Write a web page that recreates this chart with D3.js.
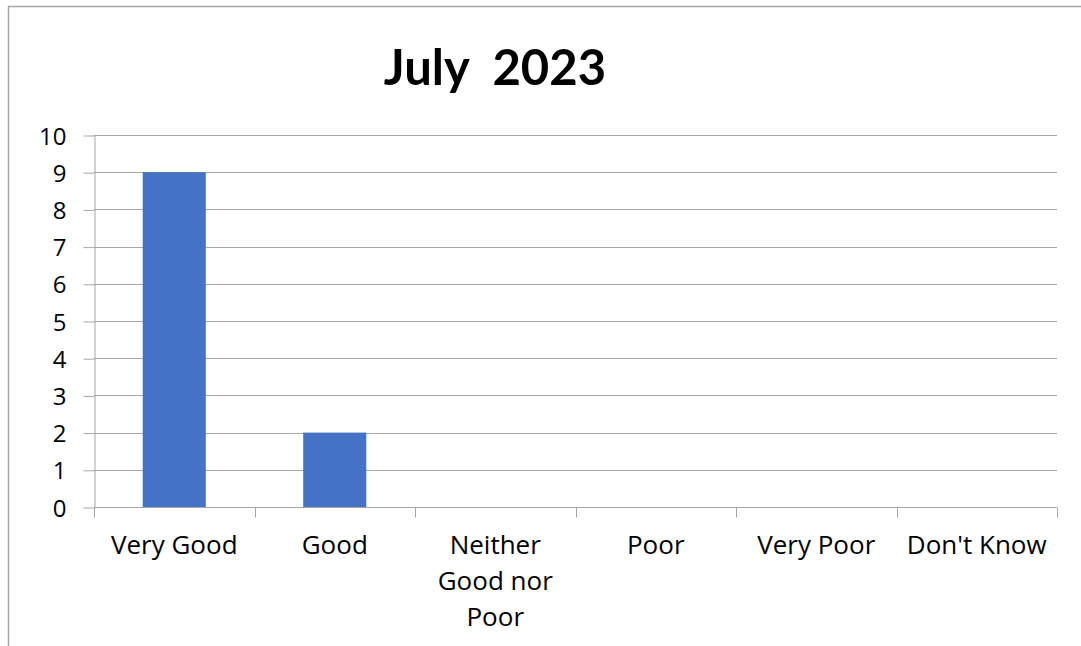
<!DOCTYPE html>
<html>
<head>
<meta charset="utf-8">
<script src="https://cdn.jsdelivr.net/npm/d3@7"></script>
<style>
  body { margin: 0; background: #fff; }
  svg { display: block; font-family: "Open Sans", Lato, sans-serif; }
</style>
</head>
<body>
<div id="chart"></div>
<script>
// chart data
const categories = ["Very Good", "Good", "Neither Good nor Poor", "Poor", "Very Poor", "Don't Know"];
const values = [9, 2, 0, 0, 0, 0];
const tickLabels = [["Very Good"], ["Good"], ["Neither", "Good nor", "Poor"], ["Poor"], ["Very Poor"], ["Don't Know"]];
const yTicks = [0, 1, 2, 3, 4, 5, 6, 7, 8, 9, 10];
const title = "July\u00a0\u00a02023";

const width = 1081;
const height = 646;
const margin = { top: 135, right: 24, bottom: 139, left: 94 };

const svg = d3.select("#chart")
    .append("svg")
    .attr("width", width)
    .attr("height", height);

// outer frame of the chart box (cut by the window on right and bottom)
svg.append("path")
    .attr("d", `M8.5,${height + 5} V6.5 H${width + 5}`)
    .attr("fill", "none")
    .attr("stroke", "#a6a6a6")
    .attr("stroke-width", 1.5);

// scales
const x = d3.scaleBand()
    .domain(categories)
    .range([margin.left, width - margin.right])
    .paddingInner(0.607)
    .paddingOuter(0.3035);

const y = d3.scaleLinear()
    .domain([0, 10])
    .range([height - margin.bottom, margin.top]);

// horizontal gridlines
svg.append("g")
    .selectAll("line")
    .data(yTicks)
    .join("line")
    .attr("x1", margin.left)
    .attr("x2", width - margin.right)
    .attr("y1", d => Math.round(y(d)) + 0.5)
    .attr("y2", d => Math.round(y(d)) + 0.5)
    .attr("stroke", "#a6a6a6")
    .attr("stroke-width", 1);

// y axis
const yAxis = svg.append("g")
    .attr("transform", `translate(${margin.left + 0.5},0.5)`)
    .call(d3.axisLeft(y).tickValues(yTicks).tickSize(11).tickPadding(17).tickSizeOuter(0));
yAxis.select(".domain").attr("stroke", "#a6a6a6");
yAxis.selectAll(".tick line").attr("stroke", "#a6a6a6");
yAxis.selectAll(".tick text")
    .attr("font-family", "'Open Sans', sans-serif")
    .attr("font-size", 24)
    .attr("fill", "#000")
    .attr("dy", "0.36em");

// bars
svg.append("g")
    .selectAll("rect")
    .data(values)
    .join("rect")
    .attr("x", (d, i) => x(categories[i]))
    .attr("y", d => y(d))
    .attr("width", x.bandwidth())
    .attr("height", d => y(0) - y(d))
    .attr("fill", "#4472c4");

// x axis baseline and tick marks on category boundaries
const gap = (x.step() - x.bandwidth()) / 2;
const bounds = categories.map(c => x(c) - gap).concat([x(categories[categories.length - 1]) + x.bandwidth() + gap]);
const base = Math.round(y(0)) + 0.5;

svg.append("line")
    .attr("x1", margin.left)
    .attr("x2", width - margin.right)
    .attr("y1", base)
    .attr("y2", base)
    .attr("stroke", "#a6a6a6");

svg.append("g")
    .selectAll("line")
    .data(bounds)
    .join("line")
    .attr("x1", d => Math.round(d) + 0.5)
    .attr("x2", d => Math.round(d) + 0.5)
    .attr("y1", base)
    .attr("y2", base + 10)
    .attr("stroke", "#a6a6a6");

// category labels, wrapped like the original
svg.append("g")
    .selectAll("text")
    .data(categories)
    .join("text")
    .attr("text-anchor", "middle")
    .attr("font-size", 26)
    .attr("fill", "#000")
    .each(function (d, i) {
        d3.select(this).selectAll("tspan")
            .data(tickLabels[i])
            .join("tspan")
            .attr("x", x(d) + x.bandwidth() / 2)
            .attr("y", (t, j) => 554 + j * 36)
            .text(t => t);
    });

// title
svg.append("text")
    .attr("x", 495)
    .attr("y", 85)
    .attr("text-anchor", "middle")
    .attr("font-family", "Lato, sans-serif")
    .attr("font-size", 49)
    .attr("font-weight", 700)
    .attr("fill", "#000")
    .text(title);
</script>
</body>
</html>
